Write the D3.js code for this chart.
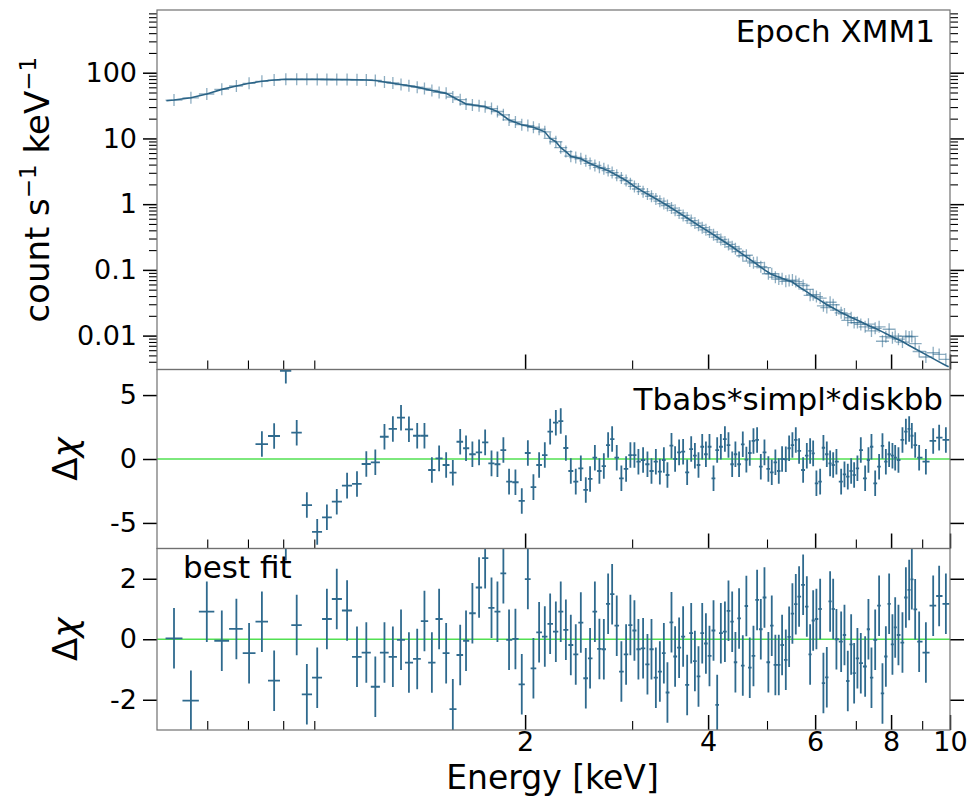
<!DOCTYPE html>
<html lang="en">
<head>
<meta charset="UTF-8">
<title>Epoch XMM1</title>
<script src="https://d3js.org/d3.v7.min.js"></script>
<style>
    body { margin: 0; background: #fff; }
    svg { display: block; font-family: "DejaVu Sans", sans-serif; }
</style>
</head>
<body>
<script>
// bin centres (keV)
const energy = [0.529,0.564,0.599,0.634,0.670,0.703,0.738,0.773,0.808,0.842,
    0.875,0.910,0.944,0.980,1.019,1.058,1.096,1.134,1.174,1.212,
    1.250,1.288,1.329,1.366,1.405,1.444,1.483,1.521,1.564,1.599,
    1.638,1.680,1.719,1.761,1.801,1.842,1.882,1.928,1.975,2.021,
    2.064,2.109,2.155,2.199,2.247,2.289,2.334,
    2.378,2.423,2.470,2.517,2.558,2.605,2.650,2.695,2.739,2.781,
    2.830,2.880,2.932,2.980,3.026,3.072,3.127,3.179,3.228,3.282,
    3.332,3.383,3.429,3.482,3.530,3.584,3.639,3.695,3.752,3.805,
    3.857,3.912,3.967,4.021,4.083,4.140,4.198,4.263,4.321,4.382,
    4.436,4.498,4.562,4.624,4.684,4.750,4.816,4.884,4.952,5.026,
    5.091,5.161,5.228,5.294,5.369,5.437,5.505,5.576,5.646,5.733,
    5.814,5.887,5.955,6.029,6.115,6.191,6.271,6.350,6.424,6.504,
    6.621,6.705,6.790,6.877,6.955,7.042,7.133,7.251,7.342,7.427,
    7.532,7.645,7.743,7.843,7.941,8.041,8.125,8.226,8.352,8.461,
    8.567,8.654,8.764,8.897,9.127,9.383,9.597,9.845];

// count s^-1 keV^-1
const rate = [38.4,41.5,47.4,55.8,62.8,69.0,74.0,77.4,79.4,79.4,
    79.3,79.1,78.9,78.7,78.5,78.2,77.6,76.2,72.4,69.7,
    66.1,63.1,60.3,57.5,53.7,50.1,48.5,42.7,38.9,33.4,
    32.4,31.3,30.3,28.5,25.7,22.9,19.1,17.8,16.2,15.7,
    14.8,13.8,12.6,10.0,8.91,7.24,6.31,
    5.37,5.13,4.90,4.57,4.17,3.89,3.63,3.47,3.24,3.02,
    2.75,2.51,2.29,2.04,1.86,1.70,1.55,1.43,1.32,1.20,
    1.11,1.02,0.955,0.871,0.805,0.736,0.673,0.615,0.562,0.516,
    0.476,0.439,0.407,0.376,0.343,0.316,0.290,0.265,0.244,0.225,
    0.209,0.189,0.164,0.167,0.136,0.128,0.129,0.112,0.108,0.0873,
    0.0873,0.0774,0.0725,0.0730,0.0670,0.0688,0.0699,0.0663,0.0616,0.0579,
    0.0504,0.0410,0.0419,0.0392,0.0372,0.0284,0.0267,0.0322,0.0295,0.0245,
    0.0222,0.0214,0.0171,0.0187,0.0158,0.0158,0.0148,0.0136,0.0149,0.0118,
    0.0129,0.0136,0.0082,0.00963,0.0125,0.00925,0.0098,0.00883,0.00797,0.00979,
    0.00956,0.00973,0.00757,0.00573,0.00473,0.00548,0.00517,0.00435];

// model curve
const modelEnergy = [0.514,0.529,0.564,0.599,0.634,0.670,0.703,0.738,0.773,0.808,
    0.910,1.019,1.096,1.134,1.174,1.250,1.329,1.405,1.483,1.521,
    1.599,1.719,1.801,1.882,1.975,2.064,2.155,2.199,2.247,2.289,
    2.334,2.378,2.470,2.558,2.650,2.739,2.830,2.932,3.026,3.127,
    3.228,3.332,3.429,3.530,3.695,3.857,4.021,4.198,4.382,4.562,
    4.750,4.952,5.091,5.228,5.369,5.505,5.646,5.814,5.955,6.115,
    6.271,6.424,6.621,6.790,6.955,7.133,7.342,7.532,7.743,7.941,
    8.125,8.352,8.567,8.764,9.127,9.383,9.597,9.845,9.95];
const modelRate = [37.5,38.4,41.7,47.4,55.8,62.8,69.0,74.0,77.4,79.4,
    79.1,78.5,77.6,76.2,72.4,66.1,60.3,53.7,48.5,42.7,
    33.4,30.3,25.7,19.1,16.2,14.8,12.6,10.0,8.91,7.24,
    6.31,5.37,4.90,4.17,3.63,3.24,2.75,2.29,1.86,1.55,
    1.32,1.11,0.955,0.805,0.615,0.476,0.376,0.290,0.225,0.172,
    0.132,0.100,0.0851,0.0776,0.0708,0.0653,0.0550,0.0462,0.0398,0.0343,
    0.0295,0.0263,0.0224,0.0200,0.0180,0.0162,0.0143,0.0129,0.0114,0.0101,
    0.00912,0.00813,0.00708,0.00631,0.00513,0.00447,0.00398,0.00351,0.00335];

// delta chi, Tbabs*simpl*diskbb
const residSimpl = [15.2,13.1,11.4,10.2,9.3,8.6,1.17,1.8,6.9,2.06,
    -3.6,-5.7,-4.56,-3.34,-2.08,-1.95,-0.39,-0.26,1.74,2.35,
    3.23,2.32,1.82,1.82,-0.86,0.05,-0.47,-1.07,1.35,0.84,
    0.37,0.52,1.3,-0.34,-0.41,0.7,-1.77,-1.82,-3.28,0.47,
    -2.2,-0.47,0.31,2.14,2.84,2.97,0.86,
    -0.94,-1.77,-0.73,-2.42,-1.56,0.1,-0.94,-0.55,1.09,1.56,
    0.1,-1.51,-0.78,0.31,0.31,-0.21,-0.08,-0.41,-0.94,-0.21,
    -0.99,-0.08,-1.25,1.04,0,0.52,0.57,-1.04,0.78,0.26,
    -0.47,0.96,0.37,0.96,-1.51,0.7,0.96,1.56,1.09,-0.41,
    0.37,-0.41,1.15,-0.05,0.47,1.41,1.49,-0.6,0.52,-0.78,
    -1.04,-0.26,-0.94,0,-0.02,0.84,1.09,1.49,0.63,-0.86,
    0.26,0.63,0.44,-1.9,-1.77,0.88,0.37,-0.34,-0.47,-0.21,
    -1.77,-1.2,-1.38,-0.94,-1.25,-0.73,0.7,-1.51,-0.08,0.96,
    -1.9,-0.6,1.02,-0.21,0.37,0.26,0.1,-0.08,1.49,2.14,
    2.35,1.82,1.09,0.1,-0.21,1.41,1.67,1.49];

// delta chi, best fit
const residBest = [0.03,-2.03,0.91,-0.05,0.34,-0.46,0.58,-1.37,3.6,0.47,
    -1.82,-1.27,0.67,1.33,0.95,-0.58,-0.44,-1.57,-0.44,-0.58,
    -0.02,-0.77,-0.65,0.6,-0.77,0.67,-0.46,-2.31,-0.52,-0.05,
    0.86,1.71,2.68,1.04,0.91,2.18,-0.02,0.01,-1.49,1.99,
    -0.96,0.23,0.09,0.51,0.25,0.91,0.31,
    -0.19,-0.5,0.55,-1.29,-0.63,0.91,-0.32,-0.33,1.17,1.49,
    0.45,-1.07,-0.5,0.47,0.29,-0.33,-0.3,-0.83,-0.33,-1.27,
    -1.07,-0.46,-1.76,0.56,-0.57,-0.28,0.09,-1.51,0.2,-0.72,
    -1.23,0.2,-0.14,-0.55,0.29,-2.17,0.2,0.25,0.94,0.58,
    -0.76,0.69,-0.87,1.1,-0.94,-0.55,1.3,0.33,1.38,-0.76,
    0.45,-0.85,-0.85,-0.19,-0.68,0.08,0.85,1.16,1.41,1.8,
    1.08,-0.5,0.62,0.67,1.0,-1.45,-1.26,1.25,1.0,0,
    -0.08,0.14,-1.38,-0.17,-1.12,-0.63,-0.79,-0.9,0.33,-1.27,
    -0.02,1.11,-1.79,-0.57,1.17,-0.17,0.39,0.14,-0.11,1.38,
    1.63,1.98,0.99,-0.08,-0.44,1.11,1.43,1.17];

const xTicks = [2, 4, 6, 8, 10];
const xMinorTicks = [0.6, 0.7, 0.8, 0.9, 3, 5, 7, 9];
const rateTicks = [0.01, 0.1, 1, 10, 100];
const simplTicks = [-5, 0, 5];
const bestTicks = [-2, 0, 2];

const w = 973, h = 796;
const L = 157, R = 950;
const topY = [10, 369.5], midY = [369.5, 548.5], botY = [548.5, 730];
const dataColor = '#2f6a8e';
const font = '"DejaVu Sans", sans-serif';

const svg = d3.select('body').append('svg')
    .attr('width', w)
    .attr('height', h);

const x = d3.scaleLog().domain([0.496, 10]).range([L, R]);
const yRate = d3.scaleLog().domain([0.00305, 900]).range([topY[1], topY[0]]);
const ySimpl = d3.scaleLinear().domain([-7, 7]).range([midY[1], midY[0]]);
const yBest = d3.scaleLinear().domain([-3, 3]).range([botY[1], botY[0]]);

// bin edges half way (in log) between neighbouring centres
const edges = energy.map((e, i) => {
    const n = energy.length;
    const lo = i > 0 ? Math.sqrt(energy[i - 1] * e) : e * Math.sqrt(e / energy[1]);
    const hi = i < n - 1 ? Math.sqrt(e * energy[i + 1]) : e * Math.sqrt(e / energy[n - 2]);
    return [lo, hi];
});

const defs = svg.append('defs');
[['clipTop', topY], ['clipMid', midY], ['clipBot', botY]].forEach(([id, yy]) => {
    defs.append('clipPath').attr('id', id)
        .append('rect')
        .attr('x', L).attr('y', yy[0])
        .attr('width', R - L).attr('height', yy[1] - yy[0]);
});

// ---- top panel: spectrum
const gTop = svg.append('g').attr('clip-path', 'url(#clipTop)');

const crosses = gTop.selectAll('g.pt')
    .data(energy)
    .enter()
    .append('g')
    .attr('class', 'pt')
    .attr('stroke', dataColor)
    .attr('stroke-opacity', 0.55)
    .attr('stroke-width', 1.3);
crosses.append('line')
    .attr('x1', (d, i) => Math.min(x(edges[i][0]), x(d) - 6.5))
    .attr('x2', (d, i) => Math.max(x(edges[i][1]), x(d) + 6.5))
    .attr('y1', (d, i) => yRate(rate[i]))
    .attr('y2', (d, i) => yRate(rate[i]));
crosses.append('line')
    .attr('x1', d => x(d))
    .attr('x2', d => x(d))
    .attr('y1', (d, i) => yRate(rate[i]) - 6)
    .attr('y2', (d, i) => yRate(rate[i]) + 6);

const line = d3.line()
    .x(d => x(d[0]))
    .y(d => yRate(d[1]));
gTop.append('path')
    .datum(modelEnergy.map((e, i) => [e, modelRate[i]]))
    .attr('d', line)
    .attr('fill', 'none')
    .attr('stroke', '#2a6386')
    .attr('stroke-width', 1.6);

// ---- residual panels
function drawResid(clipId, y, values) {
    const g = svg.append('g').attr('clip-path', `url(#${clipId})`);
    g.append('line')
        .attr('x1', L).attr('x2', R)
        .attr('y1', y(0)).attr('y2', y(0))
        .attr('stroke', '#52e052')
        .attr('stroke-width', 1.3);
    const pts = g.selectAll('g.res')
        .data(values)
        .enter()
        .append('g')
        .attr('class', 'res')
        .attr('stroke', dataColor)
        .attr('stroke-width', 1.8);
    pts.append('line')
        .attr('x1', (d, i) => x(edges[i][0]))
        .attr('x2', (d, i) => x(edges[i][1]))
        .attr('y1', d => y(d))
        .attr('y2', d => y(d));
    pts.append('line')
        .attr('x1', (d, i) => x(energy[i]))
        .attr('x2', (d, i) => x(energy[i]))
        .attr('y1', d => y(d - 1))
        .attr('y2', d => y(d + 1));
}
drawResid('clipMid', ySimpl, residSimpl);
drawResid('clipBot', yBest, residBest);

// ---- axes
function styleAxis(g, width) {
    g.select('.domain').remove();
    g.selectAll('.tick line').attr('stroke', '#000').attr('stroke-width', width);
    g.selectAll('.tick text')
        .attr('fill', '#000')
        .style('font-family', font)
        .style('font-size', '27px');
}

function yAxes(y, ticks, minor, fmt) {
    svg.append('g').attr('transform', `translate(${L},0)`)
        .call(d3.axisLeft(y).tickValues(ticks).tickSize(14).tickPadding(6).tickFormat(fmt))
        .call(g => styleAxis(g, 1.5));
    svg.append('g').attr('transform', `translate(${R},0)`)
        .call(d3.axisRight(y).tickValues(ticks).tickSize(14).tickFormat(''))
        .call(g => styleAxis(g, 1.5));
    if (minor.length) {
        svg.append('g').attr('transform', `translate(${L},0)`)
            .call(d3.axisLeft(y).tickValues(minor).tickSize(8).tickFormat(''))
            .call(g => styleAxis(g, 1.1));
        svg.append('g').attr('transform', `translate(${R},0)`)
            .call(d3.axisRight(y).tickValues(minor).tickSize(8).tickFormat(''))
            .call(g => styleAxis(g, 1.1));
    }
}

const rateMinor = [];
for (let k = -3; k <= 2; k++) {
    for (let m = 2; m <= 9; m++) {
        const v = m * Math.pow(10, k);
        if (v > yRate.domain()[0] && v < yRate.domain()[1]) rateMinor.push(v);
    }
}
yAxes(yRate, rateTicks, rateMinor, d => String(d));
yAxes(ySimpl, simplTicks, [], d => String(d));
yAxes(yBest, bestTicks, [], d => String(d));

function xAxes(yPos, labels) {
    svg.append('g').attr('transform', `translate(0,${yPos})`)
        .call(d3.axisBottom(x).tickValues(xTicks).tickSizeInner(-15).tickSizeOuter(0)
            .tickPadding(2).tickFormat(labels ? d => String(d) : ''))
        .call(g => styleAxis(g, 1.5));
    svg.append('g').attr('transform', `translate(0,${yPos})`)
        .call(d3.axisBottom(x).tickValues(xMinorTicks).tickSizeInner(-9).tickSizeOuter(0).tickFormat(''))
        .call(g => styleAxis(g, 1.1));
}
xAxes(topY[1], false);
xAxes(midY[1], false);
xAxes(botY[1], true);

// frames
[topY, midY, botY].forEach(yy => {
    svg.append('rect')
        .attr('x', L).attr('y', yy[0])
        .attr('width', R - L).attr('height', yy[1] - yy[0])
        .attr('fill', 'none')
        .attr('stroke', '#707070')
        .attr('stroke-width', 1.2);
});

// ---- labels
const yl = svg.append('text')
    .attr('transform', `translate(49,${(topY[0] + topY[1]) / 2}) rotate(-90)`)
    .attr('text-anchor', 'middle')
    .style('font-size', '34px');
yl.append('tspan').text('count s');
yl.append('tspan').attr('dy', -13).style('font-size', '23px').text('\u22121');
yl.append('tspan').attr('dy', 13).text(' keV');
yl.append('tspan').attr('dy', -13).style('font-size', '23px').text('\u22121');

[midY, botY].forEach(yy => {
    const t = svg.append('text')
        .attr('transform', `translate(77,${(yy[0] + yy[1]) / 2}) rotate(-90)`)
        .attr('text-anchor', 'middle')
        .style('font-size', '34px');
    t.append('tspan').text('\u0394');
    t.append('tspan').style('font-style', 'italic').text('\u03c7');
});

svg.append('text')
    .attr('x', (L + R) / 2 - 1)
    .attr('y', 789)
    .attr('text-anchor', 'middle')
    .style('font-size', '33px')
    .text('Energy [keV]');

svg.append('text')
    .attr('x', 935).attr('y', 42)
    .attr('text-anchor', 'end')
    .style('font-size', '31px')
    .text('Epoch XMM1');

svg.append('text')
    .attr('x', 943).attr('y', 410)
    .attr('text-anchor', 'end')
    .style('font-size', '31px')
    .text('Tbabs*simpl*diskbb');

svg.append('text')
    .attr('x', 183).attr('y', 578)
    .style('font-size', '31px')
    .text('best fit');
</script>
</body>
</html>
